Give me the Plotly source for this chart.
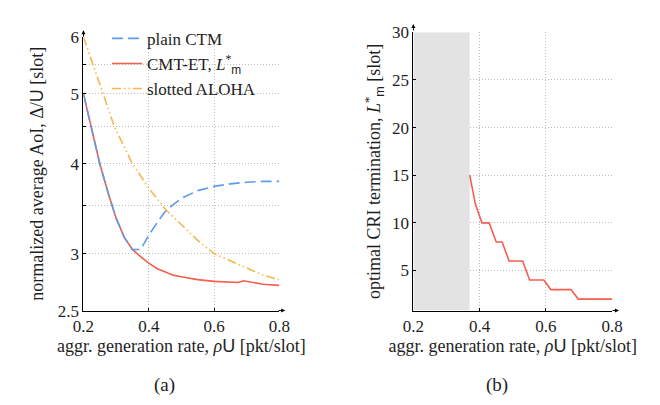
import plotly.graph_objects as go

# ---------------- data ----------------
rate_ctm = [0.2, 0.225, 0.25, 0.275, 0.3, 0.325, 0.35, 0.375, 0.4, 0.425, 0.45,
            0.475, 0.5, 0.55, 0.6, 0.65, 0.7, 0.75, 0.8]
aoi_ctm = [5.0, 4.46, 4.0, 3.65, 3.36, 3.16, 3.04, 3.04, 3.18, 3.31, 3.43,
           3.51, 3.58, 3.67, 3.72, 3.75, 3.77, 3.78, 3.78]

rate_et = [0.2, 0.225, 0.25, 0.275, 0.3, 0.325, 0.35, 0.375, 0.4, 0.425, 0.45,
           0.475, 0.5, 0.55, 0.6, 0.65, 0.675, 0.69, 0.7, 0.75, 0.8]
aoi_et = [5.0, 4.46, 4.0, 3.65, 3.36, 3.16, 3.04, 2.97, 2.91, 2.86, 2.83,
          2.80, 2.785, 2.76, 2.745, 2.735, 2.735, 2.75, 2.745, 2.72, 2.71]

rate_aloha = [0.2, 0.23, 0.26, 0.295, 0.35, 0.4, 0.45, 0.5, 0.55, 0.6, 0.65,
              0.7, 0.75, 0.8]
aoi_aloha = [6.0, 5.49, 5.0, 4.5, 4.0, 3.70, 3.46, 3.29, 3.13, 3.0, 2.93,
             2.86, 2.80, 2.76]

rate_L = [0.37, 0.387, 0.407, 0.429, 0.45, 0.468, 0.489, 0.53, 0.551, 0.594,
          0.615, 0.676, 0.698, 0.8]
L_opt = [15, 12, 10, 10, 8, 8, 6, 6, 4, 4, 3, 3, 2, 2]

shade_end = 0.37  # region with no optimal termination

x_ticks = [0.2, 0.4, 0.6, 0.8]
x_labels = ["0.2", "0.4", "0.6", "0.8"]
y1_ticks = [2.5, 3, 3.5, 4, 4.5, 5, 5.5, 6]
y1_labels = ["2.5", "3", "", "4", "", "5", "", "6"]
y2_ticks = [5, 10, 15, 20, 25, 30]

# ---------------- style ----------------
SERIF = "Liberation Serif"
SANS = "Liberation Sans"
BLUE = "#5E9BE8"
RED = "#F65E4E"
ORANGE = "#F5B74E"
GRID = "#BDBDBD"
TXT = "#1E1E1E"

U = f"<span style='font-family:{SANS}'>U</span>"
m = f"<span style='font-family:{SANS}'>m</span>"

fig = go.Figure()

fig.add_trace(go.Scatter(x=rate_et, y=aoi_et, mode="lines", legendrank=2,
                         name=f"CMT-ET, <i>L</i><sup>*</sup><sub>{m}</sub>",
                         line=dict(color=RED, width=1.6),
                         xaxis="x", yaxis="y"))
fig.add_trace(go.Scatter(x=rate_ctm, y=aoi_ctm, mode="lines", name="plain CTM",
                         legendrank=1,
                         line=dict(color=BLUE, width=1.6, dash="11px,5px"),
                         xaxis="x", yaxis="y"))
fig.add_trace(go.Scatter(x=rate_aloha, y=aoi_aloha, mode="lines", name="slotted ALOHA",
                         legendrank=3,
                         line=dict(color=ORANGE, width=1.6,
                                   dash="9px,3px,1.5px,3px,1.5px,3px"),
                         xaxis="x", yaxis="y"))
fig.add_trace(go.Scatter(x=rate_L, y=L_opt, mode="lines", showlegend=False,
                         line=dict(color=RED, width=1.6),
                         xaxis="x2", yaxis="y2"))

W, H = 660, 405
# pixel layout -> paper fractions
x1_dom = [66.7 / W, 269.3 / W]
x2_dom = [408.0 / W, 613.5 / W]
y1_dom = [1 - 308.0 / H, 1 - 21.0 / H]
y2_dom = [1 - 308.0 / H, 1 - 16.0 / H]

axis_common = dict(showline=True, linecolor="black", linewidth=1,
                   ticks="inside", ticklen=3, tickcolor="black",
                   showgrid=True, gridcolor=GRID, griddash="1px,2px", gridwidth=1,
                   zeroline=False, tickfont=dict(family=SERIF, size=17, color=TXT),
                   mirror=False)

title_font = dict(family=SERIF, size=18, color=TXT)
xtitle = f"aggr. generation rate, <i>ρ</i>{U} [pkt/slot]"

fig.update_layout(
    width=W, height=H,
    margin=dict(l=0, r=0, t=0, b=0),
    plot_bgcolor="white", paper_bgcolor="white",
    font=dict(family=SERIF, color=TXT),
    xaxis=dict(axis_common, domain=x1_dom, range=[0.2, 0.8], tickvals=x_ticks,
               ticktext=x_labels, anchor="y",
               title=dict(text=xtitle, font=title_font, standoff=0)),
    yaxis=dict(axis_common, domain=y1_dom, type="log",
               range=[0.397940009, 0.77815125], tickvals=y1_ticks, ticktext=y1_labels,
               anchor="x",
               title=dict(text=f"normalized average AoI, Δ/{U} [slot]", font=title_font,
                          standoff=9)),
    xaxis2=dict(axis_common, domain=x2_dom, range=[0.2, 0.8], tickvals=x_ticks,
                ticktext=x_labels, anchor="y2",
                title=dict(text=xtitle, font=title_font, standoff=0)),
    yaxis2=dict(axis_common, domain=y2_dom, range=[0.8, 30], tickvals=y2_ticks,
                anchor="x2",
                title=dict(text=f"optimal CRI termination, <i>L</i><sup>*</sup><sub>{m}</sub> [slot]",
                           font=title_font, standoff=6)),
    legend=dict(x=91 / W, y=1 - 4 / H, xanchor="left", yanchor="top",
                bgcolor="rgba(255,255,255,0)", borderwidth=0,
                font=dict(family=SERIF, size=17, color=TXT),
                tracegroupgap=0, itemwidth=30),
    showlegend=True,
)

# shaded area in panel (b)
fig.add_shape(type="rect", xref="x2", yref="y2", x0=0.2, x1=shade_end, y0=0.8, y1=30,
              fillcolor="#E3E3E3", line=dict(width=0), layer="between")

# axis arrows
arrow = dict(showarrow=True, arrowhead=2, arrowsize=0.8, arrowwidth=1,
             arrowcolor="black", text="")
fig.add_annotation(arrow, x=1.03, y=0, xref="x domain", yref="y domain", ax=-8, ay=0)
fig.add_annotation(arrow, x=0, y=1.025, xref="x domain", yref="y domain", ax=0, ay=8)
fig.add_annotation(arrow, x=1.035, y=0, xref="x2 domain", yref="y2 domain", ax=-8, ay=0)
fig.add_annotation(arrow, x=0, y=1.03, xref="x2 domain", yref="y2 domain", ax=0, ay=8)

# panel labels
fig.add_annotation(text="(a)", x=150 / W, y=1 - 386 / H, xref="paper", yref="paper",
                   xanchor="center", yanchor="middle", showarrow=False,
                   font=dict(family=SERIF, size=19, color=TXT))
fig.add_annotation(text="(b)", x=494 / W, y=1 - 386 / H, xref="paper", yref="paper",
                   xanchor="center", yanchor="middle", showarrow=False,
                   font=dict(family=SERIF, size=19, color=TXT))

fig.write_html("out.html")
